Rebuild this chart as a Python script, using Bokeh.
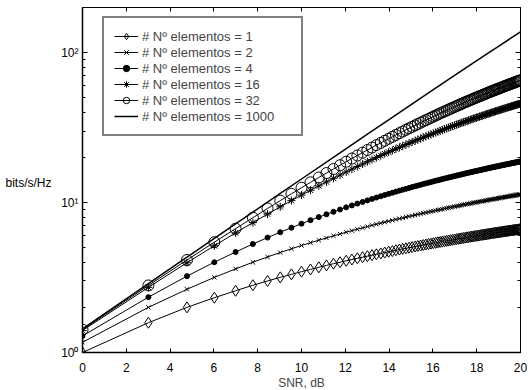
from bokeh.plotting import figure
from bokeh.models import Range1d, FixedTicker, LinearAxis, LogAxis, Legend, LegendItem
from bokeh.embed import file_html
from bokeh.resources import INLINE

# SNR in dB (sample points of every marked series)
snr_db = [0.00, 3.01, 4.77, 6.02, 6.99, 7.78, 8.45, 9.03, 9.54, 10.00,
          10.41, 10.79, 11.14, 11.46, 11.76, 12.04, 12.30, 12.55, 12.79, 13.01,
          13.22, 13.42, 13.62, 13.80, 13.98, 14.15, 14.31, 14.47, 14.62, 14.77,
          14.91, 15.05, 15.19, 15.31, 15.44, 15.56, 15.68, 15.80, 15.91, 16.02,
          16.13, 16.23, 16.33, 16.43, 16.53, 16.63, 16.72, 16.81, 16.90, 16.99,
          17.08, 17.16, 17.24, 17.32, 17.40, 17.48, 17.56, 17.63, 17.71, 17.78,
          17.85, 17.92, 17.99, 18.06, 18.13, 18.20, 18.26, 18.33, 18.39, 18.45,
          18.51, 18.57, 18.63, 18.69, 18.75, 18.81, 18.86, 18.92, 18.98, 19.03,
          19.08, 19.14, 19.19, 19.24, 19.29, 19.34, 19.40, 19.44, 19.49, 19.54,
          19.59, 19.64, 19.68, 19.73, 19.78, 19.82, 19.87, 19.91, 19.96, 20.00]

cap_n1 = [1.00, 1.58, 2.00, 2.32, 2.58, 2.81, 3.00, 3.17, 3.32, 3.46,
          3.58, 3.70, 3.81, 3.91, 4.00, 4.09, 4.17, 4.25, 4.32, 4.39,
          4.46, 4.52, 4.58, 4.64, 4.70, 4.75, 4.81, 4.86, 4.91, 4.95,
          5.00, 5.04, 5.09, 5.13, 5.17, 5.21, 5.25, 5.29, 5.32, 5.36,
          5.39, 5.43, 5.46, 5.49, 5.52, 5.55, 5.58, 5.61, 5.64, 5.67,
          5.70, 5.73, 5.75, 5.78, 5.81, 5.83, 5.86, 5.88, 5.91, 5.93,
          5.95, 5.98, 6.00, 6.02, 6.04, 6.07, 6.09, 6.11, 6.13, 6.15,
          6.17, 6.19, 6.21, 6.23, 6.25, 6.27, 6.29, 6.30, 6.32, 6.34,
          6.36, 6.38, 6.39, 6.41, 6.43, 6.44, 6.46, 6.48, 6.49, 6.51,
          6.52, 6.54, 6.55, 6.57, 6.58, 6.60, 6.61, 6.63, 6.64, 6.66]

cap_n2 = [1.17, 2.00, 2.64, 3.17, 3.61, 4.00, 4.34, 4.64, 4.92, 5.17,
          5.40, 5.61, 5.81, 6.00, 6.17, 6.34, 6.50, 6.64, 6.78, 6.92,
          7.05, 7.17, 7.29, 7.40, 7.51, 7.61, 7.72, 7.81, 7.91, 8.00,
          8.09, 8.17, 8.26, 8.34, 8.42, 8.50, 8.57, 8.64, 8.72, 8.78,
          8.85, 8.92, 8.98, 9.05, 9.11, 9.17, 9.23, 9.29, 9.34, 9.40,
          9.46, 9.51, 9.56, 9.61, 9.67, 9.72, 9.77, 9.81, 9.86, 9.91,
          9.96, 10.00, 10.04, 10.09, 10.13, 10.17, 10.22, 10.26, 10.30, 10.34,
          10.38, 10.42, 10.46, 10.50, 10.53, 10.57, 10.61, 10.64, 10.68, 10.72,
          10.75, 10.78, 10.82, 10.85, 10.89, 10.92, 10.95, 10.98, 11.02, 11.05,
          11.08, 11.11, 11.14, 11.17, 11.20, 11.23, 11.26, 11.29, 11.32, 11.34]

cap_n4 = [1.29, 2.34, 3.23, 4.00, 4.68, 5.29, 5.84, 6.34, 6.80, 7.23,
          7.63, 8.00, 8.35, 8.68, 8.99, 9.29, 9.57, 9.84, 10.09, 10.34,
          10.58, 10.80, 11.02, 11.23, 11.43, 11.63, 11.82, 12.00, 12.18, 12.35,
          12.52, 12.68, 12.84, 12.99, 13.14, 13.29, 13.43, 13.57, 13.70, 13.84,
          13.97, 14.09, 14.22, 14.34, 14.46, 14.58, 14.69, 14.80, 14.91, 15.02,
          15.13, 15.23, 15.33, 15.43, 15.53, 15.63, 15.72, 15.82, 15.91, 16.00,
          16.09, 16.18, 16.26, 16.35, 16.43, 16.52, 16.60, 16.68, 16.76, 16.84,
          16.92, 16.99, 17.07, 17.14, 17.22, 17.29, 17.36, 17.43, 17.50, 17.57,
          17.64, 17.71, 17.77, 17.84, 17.90, 17.97, 18.03, 18.09, 18.16, 18.22,
          18.28, 18.34, 18.40, 18.46, 18.52, 18.58, 18.63, 18.69, 18.75, 18.80]

cap_n16 = [1.40, 2.72, 3.97, 5.15, 6.28, 7.35, 8.38, 9.36, 10.30, 11.21,
           12.08, 12.92, 13.73, 14.51, 15.27, 16.00, 16.71, 17.40, 18.07, 18.72,
           19.35, 19.97, 20.57, 21.15, 21.72, 22.28, 22.82, 23.35, 23.87, 24.38,
           24.87, 25.36, 25.84, 26.30, 26.76, 27.21, 27.65, 28.08, 28.50, 28.92,
           29.33, 29.73, 30.12, 30.51, 30.89, 31.27, 31.64, 32.00, 32.36, 32.71,
           33.06, 33.40, 33.74, 34.07, 34.40, 34.72, 35.04, 35.35, 35.66, 35.97,
           36.27, 36.57, 36.86, 37.15, 37.44, 37.72, 38.00, 38.28, 38.55, 38.82,
           39.09, 39.35, 39.61, 39.87, 40.13, 40.38, 40.63, 40.87, 41.12, 41.36,
           41.60, 41.84, 42.07, 42.30, 42.53, 42.76, 42.98, 43.21, 43.43, 43.65,
           43.86, 44.08, 44.29, 44.50, 44.71, 44.92, 45.12, 45.33, 45.53, 45.73]

cap_n32 = [1.42, 2.80, 4.14, 5.44, 6.70, 7.93, 9.13, 10.30, 11.44, 12.55,
           13.64, 14.70, 15.74, 16.75, 17.75, 18.72, 19.67, 20.60, 21.52, 22.41,
           23.29, 24.16, 25.00, 25.84, 26.65, 27.46, 28.24, 29.02, 29.78, 30.53,
           31.27, 32.00, 32.72, 33.42, 34.12, 34.80, 35.47, 36.14, 36.79, 37.44,
           38.07, 38.70, 39.32, 39.93, 40.54, 41.13, 41.72, 42.30, 42.88, 43.44,
           44.00, 44.55, 45.10, 45.64, 46.17, 46.70, 47.22, 47.74, 48.25, 48.75,
           49.25, 49.75, 50.24, 50.72, 51.20, 51.67, 52.14, 52.60, 53.06, 53.52,
           53.97, 54.41, 54.86, 55.29, 55.73, 56.16, 56.58, 57.00, 57.42, 57.84,
           58.25, 58.65, 59.06, 59.46, 59.85, 60.24, 60.63, 61.02, 61.40, 61.78,
           62.16, 62.53, 62.91, 63.27, 63.64, 64.00, 64.36, 64.72, 65.07, 65.42]

snr_db_1000 = [0.00, 3.01, 4.77, 6.02, 6.99, 7.78, 9.03, 10.00, 11.76, 13.01,
               13.98, 14.77, 16.02, 16.99, 17.78, 18.45, 19.03, 19.54, 20.00]
cap_n1000 = [1.44, 2.88, 4.32, 5.76, 7.20, 8.63, 11.50, 14.36, 21.48, 28.57,
             35.62, 42.64, 56.58, 70.39, 84.06, 97.61, 111.03, 124.33, 137.50]

series_labels = ["# Nº elementos = 1", "# Nº elementos = 2", "# Nº elementos = 4",
                 "# Nº elementos = 16", "# Nº elementos = 32", "# Nº elementos = 1000"]
x_ticks = [0, 2, 4, 6, 8, 10, 12, 14, 16, 18, 20]
y_ticks = [1, 10, 100]
y_minor = [2, 3, 4, 5, 6, 7, 8, 9, 20, 30, 40, 50, 60, 70, 80, 90, 200]
y_tick_text = {1: "10⁰", 10: "10¹", 100: "10²"}
y_title = "bits/s/Hz"
y_title_at = 13.5

FONT = "Liberation Sans"

p = figure(frame_width=438, frame_height=345,
           x_range=Range1d(0, 20), y_range=Range1d(1, 200), y_axis_type="log",
           output_backend="svg", toolbar_location=None,
           min_border_left=82, min_border_right=10, min_border_top=7, min_border_bottom=38)
p.xgrid.visible = False
p.ygrid.visible = False
p.outline_line_color = "black"
p.outline_line_width = 1
p.background_fill_color = "white"
p.border_fill_color = "white"

xb = p.below[0]
yl = p.left[0]
xb.ticker = FixedTicker(ticks=x_ticks)
yl.ticker = FixedTicker(ticks=y_ticks, minor_ticks=y_minor)
yl.major_label_overrides = y_tick_text
for ax in (xb, yl):
    ax.axis_line_width = 1.5
    ax.axis_line_color = "black"
    ax.major_tick_in = 4
    ax.major_tick_out = 0
    ax.major_tick_line_color = "black"
    ax.major_label_text_font = FONT
    ax.major_label_text_font_size = "12px"
    ax.major_label_text_color = "black"
xb.minor_tick_line_color = None
xb.major_label_standoff = 10
xb.axis_label = "SNR, dB"
xb.axis_label_text_font = FONT
xb.axis_label_text_font_size = "12px"
xb.axis_label_text_font_style = "normal"
xb.axis_label_standoff = 1
yl.minor_tick_in = 3
yl.minor_tick_out = 0
yl.major_tick_in = 5
yl.major_label_standoff = 4

# horizontal y title, drawn as the only label of an outer, lineless axis
title_ax = LogAxis(ticker=FixedTicker(ticks=[y_title_at]),
                   major_label_overrides={y_title_at: y_title},
                   major_label_text_font=FONT, major_label_text_font_size="12px",
                   major_label_text_color="black", major_label_standoff=1,
                   major_tick_line_color=None, minor_tick_line_color=None,
                   axis_line_color=None)
p.add_layout(title_ax, "left")

top_ax = LinearAxis(ticker=FixedTicker(ticks=x_ticks), major_label_text_font_size="1px",
                    major_label_text_color=None,
                    major_label_standoff=0, major_tick_in=4, major_tick_out=0,
                    minor_tick_line_color=None, axis_line_color="black")
p.add_layout(top_ax, "above")
right_ax = LogAxis(ticker=FixedTicker(ticks=y_ticks, minor_ticks=y_minor),
                   major_label_text_font_size="1px", major_label_text_color=None,
                   major_label_standoff=0,
                   major_tick_in=5, major_tick_out=0, minor_tick_in=3, minor_tick_out=0,
                   axis_line_color="black")
p.add_layout(right_ax, "right")

styles = [
    (cap_n1, dict(marker="diamond", size=11, fill_color=None)),
    (cap_n2, dict(marker="x", size=6, fill_color=None)),
    (cap_n4, dict(marker="circle", size=5, fill_color="black")),
    (cap_n16, dict(marker="asterisk", size=8, fill_color=None)),
    (cap_n32, dict(marker="circle", size=11, fill_color=None)),
]
items = []
for (ys, st), lab in zip(styles, series_labels):
    ln = p.line(snr_db, ys, line_color="black", line_width=1)
    sc = p.scatter(snr_db, ys, line_color="black", line_width=1, **st)
    items.append(LegendItem(label=lab, renderers=[ln, sc]))
ln1000 = p.line(snr_db_1000, cap_n1000, line_color="black", line_width=1.5)
items.append(LegendItem(label=series_labels[5], renderers=[ln1000]))

legend = Legend(items=items, location=(20, 216), margin=0,
                border_line_color="black", border_line_width=2,
                background_fill_color="white", background_fill_alpha=1,
                padding=10, spacing=0, glyph_width=24, glyph_height=16,
                label_height=16, label_standoff=4, label_width=149,
                label_text_font=FONT, label_text_font_size="13px")
p.add_layout(legend)

open("out.html", "w").write(file_html(p, INLINE))
